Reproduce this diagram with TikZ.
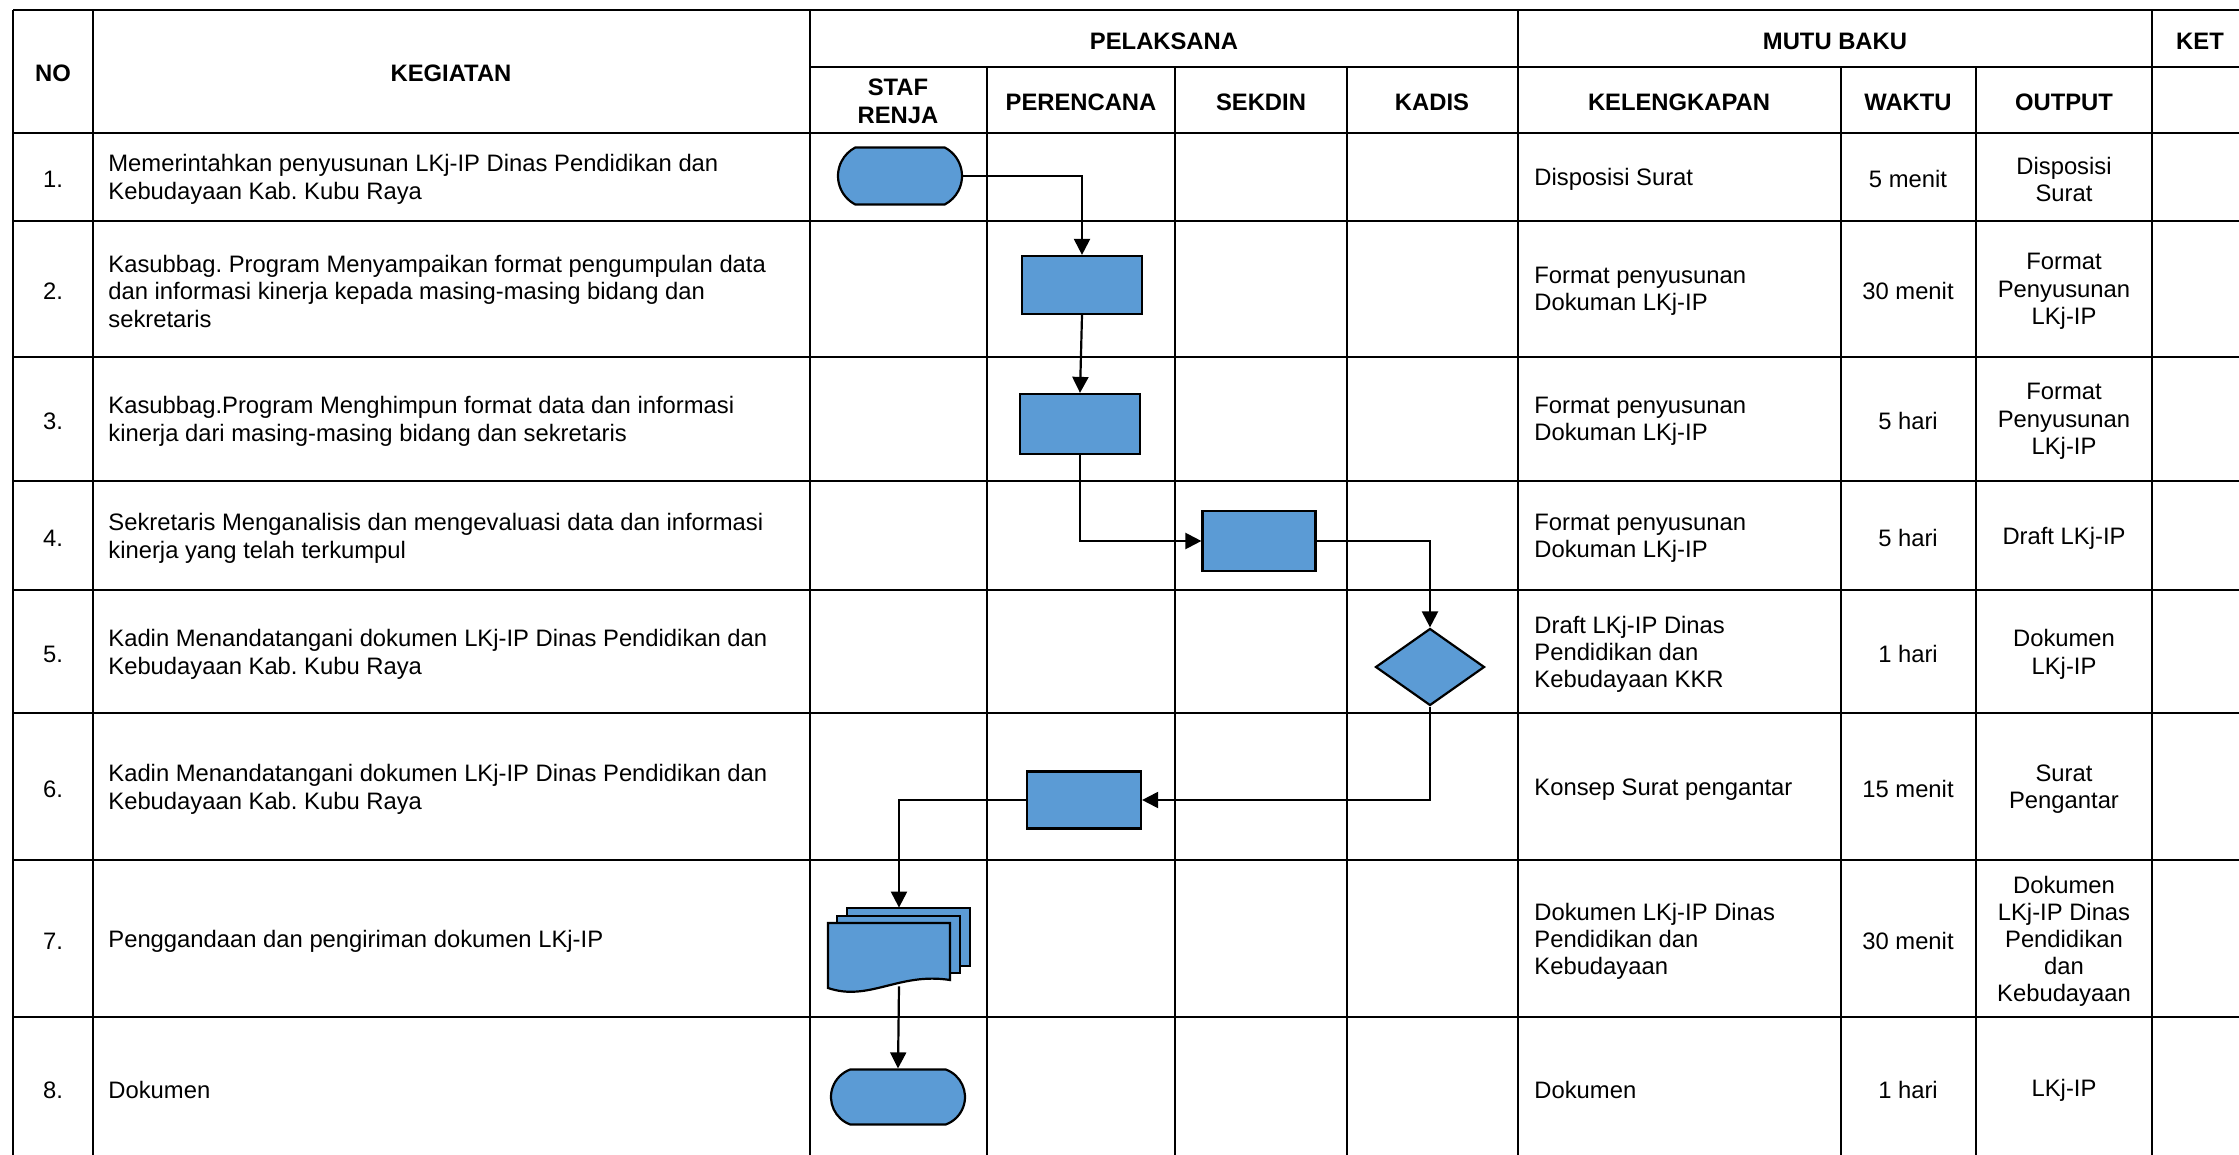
\documentclass[tikz,border=0pt]{standalone}
\usepackage{fontspec}
\setmainfont{Liberation Sans}
\usetikzlibrary{arrows.meta,shapes.geometric,shapes.misc}
\definecolor{boxblue}{RGB}{91,155,213}
\frenchspacing

\tikzset{
  grid/.style={line width=1.4pt, black},
  cell/.style={font=\fontsize{11.9pt}{13.6pt}\selectfont, inner sep=0pt, yshift=-1.2pt},
  txtl/.style={cell, anchor=west, align=left},
  txtc/.style={cell, align=center},
  head/.style={cell, align=center, font=\fontsize{11.9pt}{13.6pt}\selectfont\bfseries},
  shapeline/.style={draw=black, line width=1.1pt, fill=boxblue},
  proc/.style={shapeline, rectangle, inner sep=0pt},
  term/.style={shapeline, rounded rectangle, rounded rectangle arc length=125, inner sep=0pt},
  decide/.style={shapeline, diamond, inner sep=0pt},
  flow/.style={line width=1.1pt, -{Triangle[length=8pt,width=8pt]}},
}

\begin{document}
\begin{tikzpicture}[x=0.5pt,y=-0.5pt]
\useasboundingbox (0,0) rectangle (2239,1155);
\clip (0,0) rectangle (2239,1155);

% ---- table rules ----
\draw[grid] (13,10) -- (2260,10);
\draw[grid] (810,67) -- (2260,67);
\foreach \yy in {133,221,357,481,590,713,860,1017}
  \draw[grid] (13,\yy) -- (2260,\yy);
\foreach \xx in {13,93,810,2152}
  \draw[grid] (\xx,10) -- (\xx,1180);
\draw[grid] (1518,10) -- (1518,1180);
\foreach \xx in {987,1175,1347,1841,1976}
  \draw[grid] (\xx,67) -- (\xx,1180);

% ---- header ----
\node[head] (hno) at (53,71) {NO};
\node[head] (hkeg) at (451,71) {KEGIATAN};
\node[head] (hpel) at (1164,39) {PELAKSANA};
\node[head] (hmutu) at (1835,39) {MUTU BAKU};
\node[head] (hket) at (2200,39) {KET};
\node[head] (hstaf) at (898,99) {STAF\\RENJA};
\node[head] (hper) at (1081,100) {PERENCANA};
\node[head] (hsek) at (1261,100) {SEKDIN};
\node[head] (hkad) at (1432,100) {KADIS};
\node[head] (hkel) at (1679,100) {KELENGKAPAN};
\node[head] (hwak) at (1908,100) {WAKTU};
\node[head] (hout) at (2064,100) {OUTPUT};

% ---- row numbers ----
\node[txtc] (n1) at (53,177) {1.};
\node[txtc] (n2) at (53,289) {2.};
\node[txtc] (n3) at (53,419) {3.};
\node[txtc] (n4) at (53,536) {4.};
\node[txtc] (n5) at (53,652) {5.};
\node[txtc] (n6) at (53,787) {6.};
\node[txtc] (n7) at (53,939) {7.};
\node[txtc] (n8) at (53,1088) {8.};

% ---- activities ----
\node[txtl] (k1) at (108,177) {Memerintahkan penyusunan LKj-IP Dinas Pendidikan dan\\Kebudayaan Kab. Kubu Raya};
\node[txtl] (k2) at (108,289) {Kasubbag. Program Menyampaikan format pengumpulan data\\dan informasi kinerja kepada masing-masing bidang dan\\sekretaris};
\node[txtl] (k3) at (108,419) {Kasubbag.Program Menghimpun format data dan informasi\\kinerja dari masing-masing bidang dan sekretaris};
\node[txtl] (k4) at (108,536) {Sekretaris Menganalisis dan mengevaluasi data dan informasi\\kinerja yang telah terkumpul};
\node[txtl] (k5) at (108,652) {Kadin Menandatangani dokumen LKj-IP Dinas Pendidikan dan\\Kebudayaan Kab. Kubu Raya};
\node[txtl] (k6) at (108,787) {Kadin Menandatangani dokumen LKj-IP Dinas Pendidikan dan\\Kebudayaan Kab. Kubu Raya};
\node[txtl] (k7) at (108,939) {Penggandaan dan pengiriman dokumen LKj-IP};
\node[txtl] (k8) at (108,1088) {Dokumen};

% ---- kelengkapan ----
\node[txtl] (l1) at (1534,177) {Disposisi Surat};
\node[txtl] (l2) at (1534,289) {Format penyusunan\\Dokuman LKj-IP};
\node[txtl] (l3) at (1534,419) {Format penyusunan\\Dokuman LKj-IP};
\node[txtl] (l4) at (1534,536) {Format penyusunan\\Dokuman LKj-IP};
\node[txtl] (l5) at (1534,652) {Draft LKj-IP Dinas\\Pendidikan dan\\Kebudayaan KKR};
\node[txtl] (l6) at (1534,787) {Konsep Surat pengantar};
\node[txtl] (l7) at (1534,939) {Dokumen LKj-IP Dinas\\Pendidikan dan\\Kebudayaan};
\node[txtl] (l8) at (1534,1088) {Dokumen};

% ---- waktu ----
\node[txtc] (w1) at (1908,177) {5 menit};
\node[txtc] (w2) at (1908,289) {30 menit};
\node[txtc] (w3) at (1908,419) {5 hari};
\node[txtc] (w4) at (1908,536) {5 hari};
\node[txtc] (w5) at (1908,652) {1 hari};
\node[txtc] (w6) at (1908,787) {15 menit};
\node[txtc] (w7) at (1908,939) {30 menit};
\node[txtc] (w8) at (1908,1088) {1 hari};

% ---- output ----
\node[txtc] (o1) at (2064,177) {Disposisi\\Surat};
\node[txtc] (o2) at (2064,289) {Format\\Penyusunan\\LKj-IP};
\node[txtc] (o3) at (2064,419) {Format\\Penyusunan\\LKj-IP};
\node[txtc] (o4) at (2064,536) {Draft LKj-IP};
\node[txtc] (o5) at (2064,652) {Dokumen\\LKj-IP};
\node[txtc] (o6) at (2064,787) {Surat\\Pengantar};
\node[txtc] (o7) at (2064,939) {Dokumen\\LKj-IP Dinas\\Pendidikan\\dan\\Kebudayaan};
\node[txtc] (o8) at (2064,1088) {LKj-IP};

% ---- flow shapes ----
\node[term, minimum width=62pt, minimum height=28.5pt] (start) at (900,176) {};
\node[proc, minimum width=60pt, minimum height=29pt] (p2) at (1082,285) {};
\node[proc, minimum width=60pt, minimum height=30pt] (p3) at (1080,424) {};
\node[proc, minimum width=56.5pt, minimum height=30pt] (p4) at (1259,541) {};
\node[decide, minimum width=54.5pt, minimum height=38.5pt] (d5) at (1430,667) {};
\node[proc, minimum width=57pt, minimum height=28.5pt] (p6) at (1084,800) {};
% stacked documents: an empty frame node, sheets drawn inside it
\node[rectangle, inner sep=0pt, minimum width=71pt, minimum height=39pt] (docs) at (899,947) {};
\begin{scope}[shift={(docs.center)}]
  \draw[shapeline] (-52,-39) rectangle (71,19);
  \draw[shapeline] (-62,-31) rectangle (61,26);
  \draw[shapeline] (-71,-24) -- (51,-24) -- (51,33)
     .. controls (0,25) and (-30,55) .. (-71,41) -- cycle;
\end{scope}
\node[term, rounded rectangle arc length=140, minimum width=67pt, minimum height=27.5pt] (stop) at (898,1097) {};

% ---- connectors ----
\draw[flow] (start.east) -| (p2.north);
\draw[flow] (p2.south) -- (p3.north);
\draw[flow] (p3.south) |- (p4.west);
\draw[flow] (p4.east) -| (d5.north);
\draw[flow] (d5.south) |- (p6.east);
\draw[flow] (p6.west) -| (docs.north);
\draw[flow] (docs.south) -- (stop.north);
\end{tikzpicture}
\end{document}
